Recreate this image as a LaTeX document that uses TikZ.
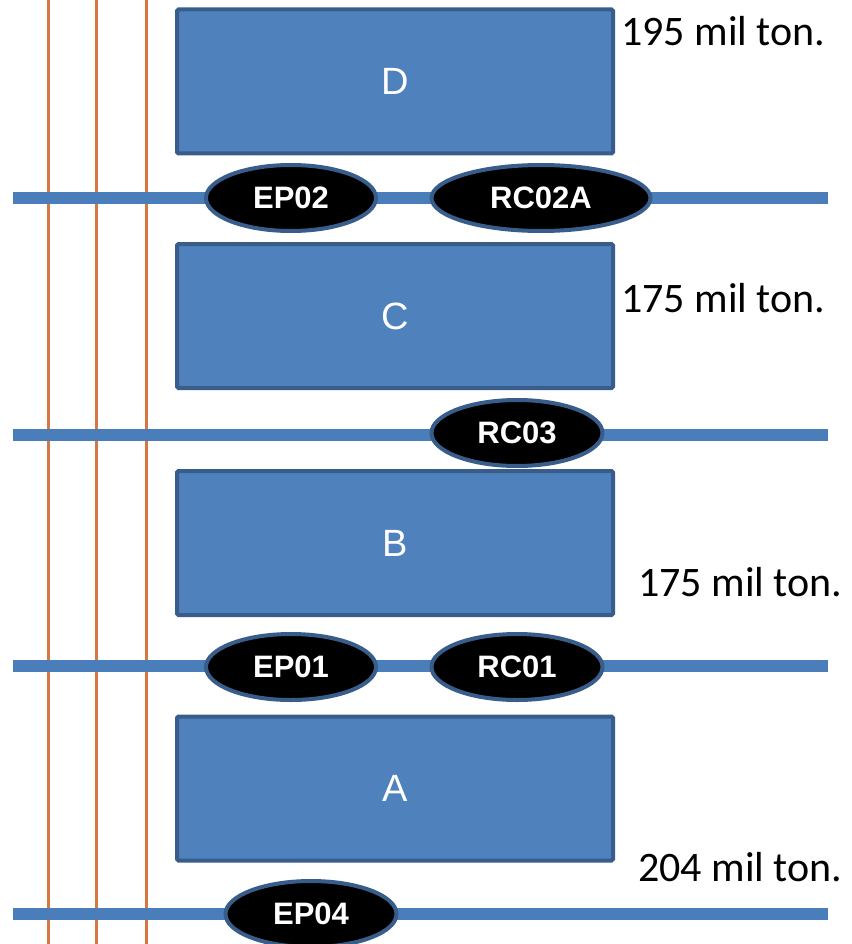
\documentclass[tikz,border=0pt]{standalone}
\usepackage{fontspec}
\setmainfont{Carlito}
\newfontfamily\arialf{Liberation Sans}
\usetikzlibrary{shapes.geometric}
\definecolor{orangeline}{RGB}{214,118,64}
\definecolor{blueline}{RGB}{74,126,187}
\definecolor{boxfill}{RGB}{79,129,189}
\definecolor{boxborder}{RGB}{56,93,138}
\tikzset{
  x=1pt, y=-1pt,
  vline/.style={draw=orangeline, line width=3pt},
  hline/.style={draw=blueline, line width=12pt},
  zonebox/.style={draw=boxborder, line width=4pt, fill=boxfill, rounded corners=1.5pt, minimum width=436pt, minimum height=144pt, inner sep=0pt, text=white, font=\arialf\fontsize{38}{40}\selectfont},
  station/.style={ellipse, draw=boxborder, line width=4pt, fill=black, minimum height=66pt, inner sep=0pt, text=white, font=\arialf\bfseries\fontsize{31}{33}\selectfont},
  tonnage/.style={anchor=west, inner sep=0pt, font=\fontsize{42}{44}\selectfont}
}
\begin{document}
\begin{tikzpicture}
\useasboundingbox (0,0) rectangle (851,944);
% vertical orange lines
\foreach \xx/\nm in {48/a,96/b,146/c}{
  \coordinate (vt\nm) at (\xx,0);
  \coordinate (vb\nm) at (\xx,944);
  \draw[vline] (vt\nm) -- (vb\nm);
}
% horizontal blue lines
\foreach \yy/\nm in {198/4,435/3,666/2,914/1}{
  \coordinate (hl\nm) at (13,\yy);
  \coordinate (hr\nm) at (828,\yy);
  \draw[hline] (hl\nm) -- (hr\nm);
}
% zone boxes
\node[zonebox] (D) at (395,81.5) {D};
\node[zonebox] (C) at (395,316) {C};
\node[zonebox] (B) at (395,543) {B};
\node[zonebox] (A) at (395,788.5) {A};
% stations
\node[station, minimum width=170pt] (EP02) at (291,198) {EP02};
\node[station, minimum width=219pt] (RC02A) at (541,198) {RC02A};
\node[station, minimum width=171pt] (RC03) at (517,433) {RC03};
\node[station, minimum width=170pt] (EP01) at (291,667) {EP01};
\node[station, minimum width=171pt] (RC01) at (517,667) {RC01};
\node[station, minimum width=171pt] (EP04) at (311,914) {EP04};
% tonnage labels
\node[tonnage] (tD) at (621,31) {195 mil ton.};
\node[tonnage] (tC) at (621,298) {175 mil ton.};
\node[tonnage] (tB) at (638,582) {175 mil ton.};
\node[tonnage] (tA) at (638,867) {204 mil ton.};
\end{tikzpicture}
\end{document}
